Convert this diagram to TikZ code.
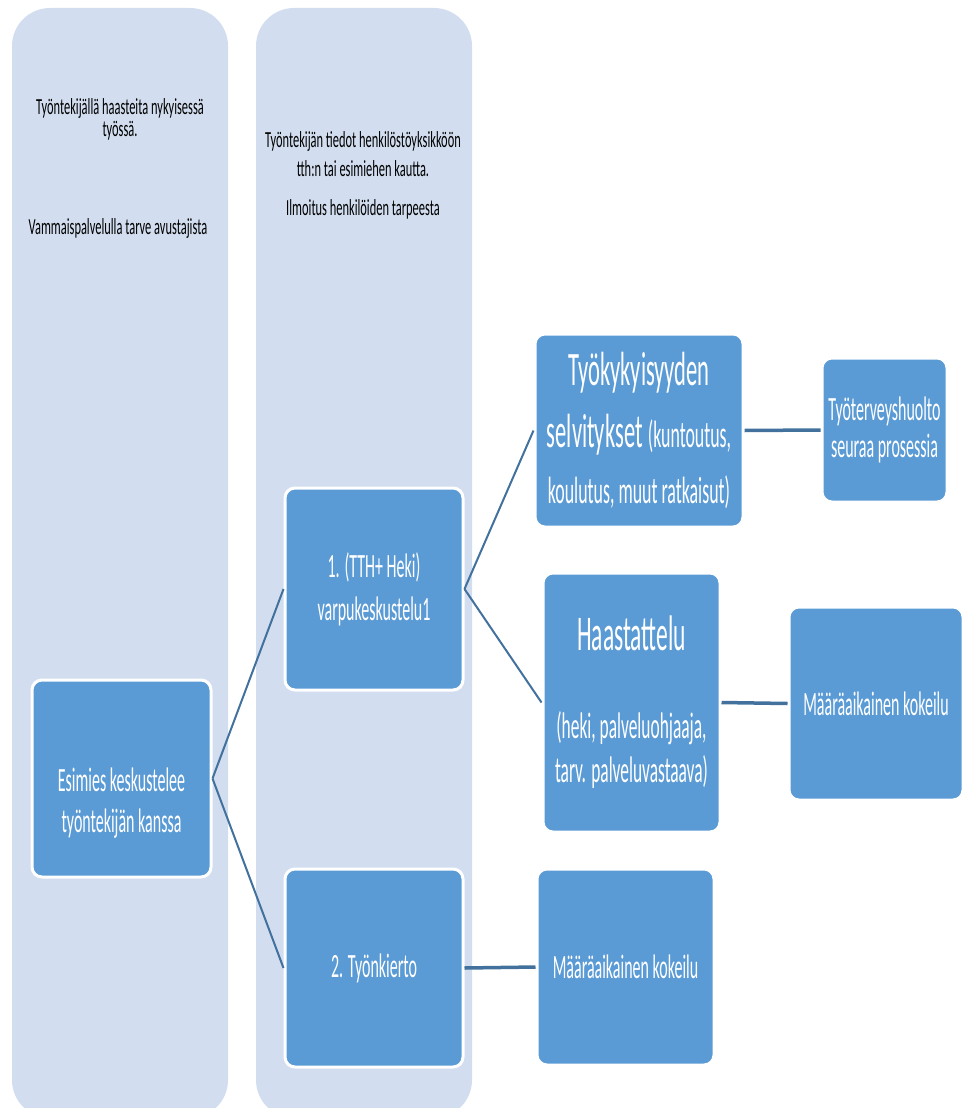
\documentclass[tikz,border=0pt]{standalone}
\usepackage{fontspec}
\setmainfont{Carlito}[FakeStretch=0.47]
\newfontfamily\columnFont{Carlito}[FakeStretch=0.54]
\usetikzlibrary{positioning}
\definecolor{columnColor}{RGB}{210,222,239}
\definecolor{boxColor}{RGB}{91,155,213}
\definecolor{lineColor}{RGB}{65,113,156}
\tikzstyle{chart} = [x = 1pt, y = -1pt]
\tikzstyle{columnStyle} = [fill=columnColor, rounded corners = 38pt]
\tikzstyle{columnText} = [align=center, inner sep=0pt, font=\columnFont\fontsize{23}{22}\selectfont]
\tikzstyle{boxStyle} = [draw=white, line width=3pt, fill=boxColor, rounded corners = 10pt, text=white, align=center, inner sep=0pt]
\tikzstyle{boxText} = [text=white, align=center, inner sep=0pt]
\tikzstyle{linkLine} = [color=lineColor, line width=2pt]
\tikzstyle{linkLineThick} = [color=lineColor, line width=3.5pt]
\newcommand{\textSize}[2]{\fontsize{#1}{#2}\selectfont}
\newcommand{\flowBox}[6]{\node [boxStyle, minimum width=#4pt, minimum height=#5pt, font=#6] (#1) at (#2) {#3};}

\begin{document}
\begin{tikzpicture}[chart]
  \useasboundingbox (0,0) rectangle (963,1108);
  % background columns
  \fill [columnStyle] (12,8) rectangle (228,1118);
  \fill [columnStyle] (256,8) rectangle (472,1118);
  \node [columnText] (problemText) at (120,119) {Työntekijällä haasteita nykyisessä\\työssä.};
  \node [columnText] (serviceText) at (118,228) {Vammaispalvelulla tarve avustajista};
  \node [columnText, font=\columnFont\textSize{23}{29}] (infoText) at (363,154) {Työntekijän tiedot henkilöstöyksikköön\\tth:n tai esimiehen kautta.};
  \node [columnText] (noticeText) at (363,209) {Ilmoitus henkilöiden tarpeesta};
  % boxes
  \flowBox{esimies}{121.5,778.5}{}{179}{197}{\textSize{34}{41}}
  \node [boxText, font=\textSize{34}{41}] (esimiesText) at ([yshift=-25pt]esimies.center) {Esimies keskustelee\\työntekijän kanssa};
  \flowBox{varpu}{374,589}{1. (TTH+ Heki)\\varpukeskustelu1}{178}{202}{\textSize{34}{43}}
  \flowBox{kierto}{374,968}{2. Työnkierto}{178}{198}{\textSize{34}{41}}
  \flowBox{tyokyky}{639,430.5}{Työkykyisyyden\\selvitykset {\textSize{38}{46}(kuntoutus,}\\[-6pt]\textSize{38}{46}koulutus, muut ratkaisut)}{208}{193}{\textSize{48}{62}}
  \flowBox{tth}{884.5,430}{Työterveyshuolto\\seuraa prosessia}{125}{144}{\textSize{34}{37}}
  \flowBox{haastattelu}{631.5,702.5}{Haastattelu\\[38pt]\textSize{37}{38}(heki, palveluohjaaja,\\[-6pt]\textSize{37}{38}tarv. palveluvastaava)}{177}{259}{\textSize{50}{50}}
  \flowBox{kokeiluTop}{876,703.5}{Määräaikainen kokeilu}{174}{193}{\textSize{34}{41}}
  \flowBox{kokeiluBottom}{625.5,967}{Määräaikainen kokeilu}{177}{196}{\textSize{34}{41}}
  % connectors
  \draw [linkLine] (esimies.east) -- (varpu.west);
  \draw [linkLine] (esimies.east) -- (kierto.west);
  \draw [linkLine] (varpu.east) -- (tyokyky.west);
  \draw [linkLine] (varpu.east) -- (haastattelu.west);
  \draw [linkLineThick] (tyokyky.east) -- (tth.west);
  \draw [linkLineThick] (haastattelu.east) -- (kokeiluTop.west);
  \draw [linkLineThick] (kierto.east) -- (kokeiluBottom.west);
\end{tikzpicture}
\end{document}
